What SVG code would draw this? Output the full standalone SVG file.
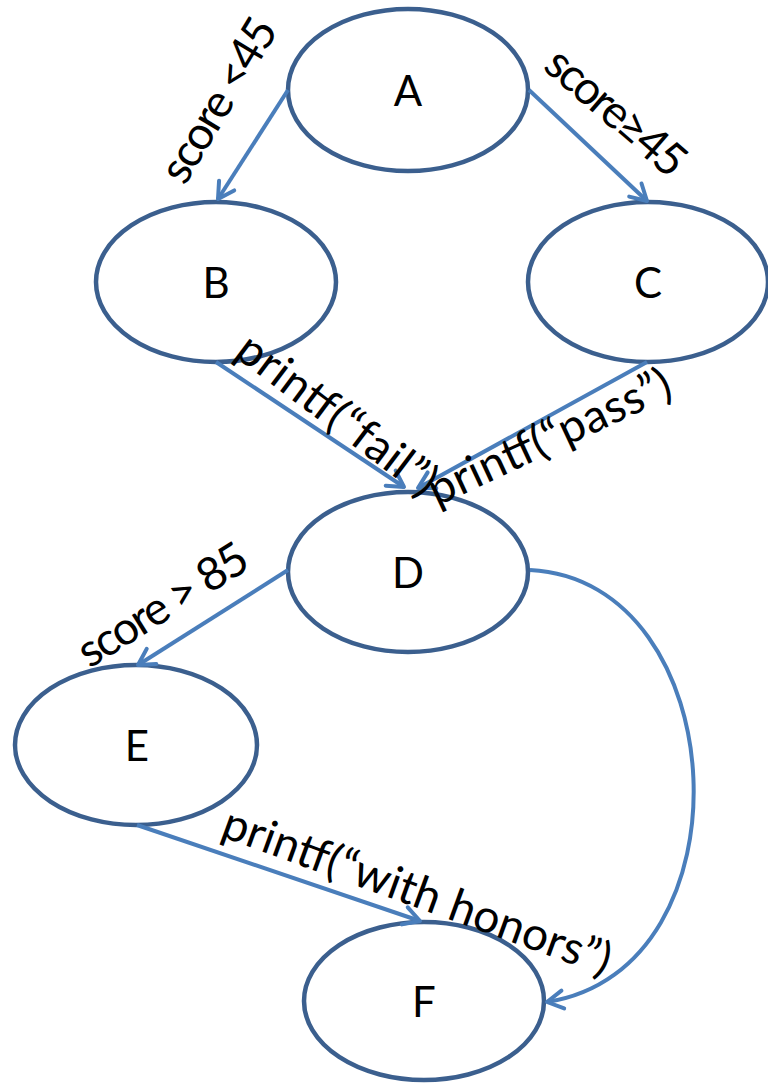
<svg xmlns="http://www.w3.org/2000/svg" width="768" height="1083" viewBox="0 0 768 1083">
<style>
.node{fill:#ffffff;stroke:#3b5f8e;stroke-width:4.5}
.nlabel{font-family:Lato,"Liberation Sans",sans-serif;font-size:42px;fill:#000;text-anchor:middle}
.edge{fill:none;stroke:#4a7ebb;stroke-width:4;marker-end:url(#arr)}
.elabel{font-family:Lato,"Liberation Sans",sans-serif;font-size:46px;fill:#000;text-anchor:middle}
</style>
<defs>
<marker id="arr" viewBox="0 0 20 20" refX="18" refY="10" markerWidth="20" markerHeight="20" markerUnits="userSpaceOnUse" orient="auto" overflow="visible">
<path d="M2,1 L18,10 L2,19" fill="none" stroke="#4a7ebb" stroke-width="4" stroke-linecap="round" stroke-linejoin="round"/>
</marker>
</defs>
<rect width="768" height="1083" fill="#ffffff"/>
<g id="node-A"><ellipse class="node" cx="408" cy="90" rx="120" ry="81"/><text class="nlabel" x="408" y="106">A</text></g>
<g id="node-B"><ellipse class="node" cx="216" cy="282" rx="120" ry="80"/><text class="nlabel" x="216" y="298">B</text></g>
<g id="node-C"><ellipse class="node" cx="648" cy="282" rx="120" ry="80"/><text class="nlabel" x="648" y="298">C</text></g>
<g id="node-D"><ellipse class="node" cx="408" cy="572" rx="120" ry="80"/><text class="nlabel" x="408" y="588">D</text></g>
<g id="node-E"><ellipse class="node" cx="136" cy="745" rx="121" ry="80"/><text class="nlabel" x="137" y="761">E</text></g>
<g id="node-F"><ellipse class="node" cx="424" cy="1001" rx="120" ry="79"/><text class="nlabel" x="424" y="1017">F</text></g>
<g id="connectors">
<path class="edge" d="M288,90 L218,199"/>
<path class="edge" d="M529,90 L647,201"/>
<path class="edge" d="M216,362 L404,487"/>
<path class="edge" d="M647,362 L418,488"/>
<path class="edge" d="M288,570 L138,665"/>
<path class="edge" d="M137,825 L420,921"/>
<path class="edge" d="M530,570 C735,580 755,970 547,1002"/>
</g>
<g id="labels">
<text class="elabel" transform="translate(232,108) rotate(-59)" textLength="183">score &lt;45</text>
<text class="elabel" transform="translate(606,124) rotate(41)" textLength="170">score≥45</text>
<text class="elabel" transform="translate(328,427) rotate(37)" textLength="238">printf(“fail”)</text>
<text class="elabel" transform="translate(556,451) rotate(-25)" textLength="263">printf(“pass”)</text>
<text class="elabel" transform="translate(171,618) rotate(-32)" textLength="192">score &gt; 85</text>
<text class="elabel" transform="translate(412,906) rotate(20)" textLength="410">printf(“with honors”)</text>
</g>
</svg>
